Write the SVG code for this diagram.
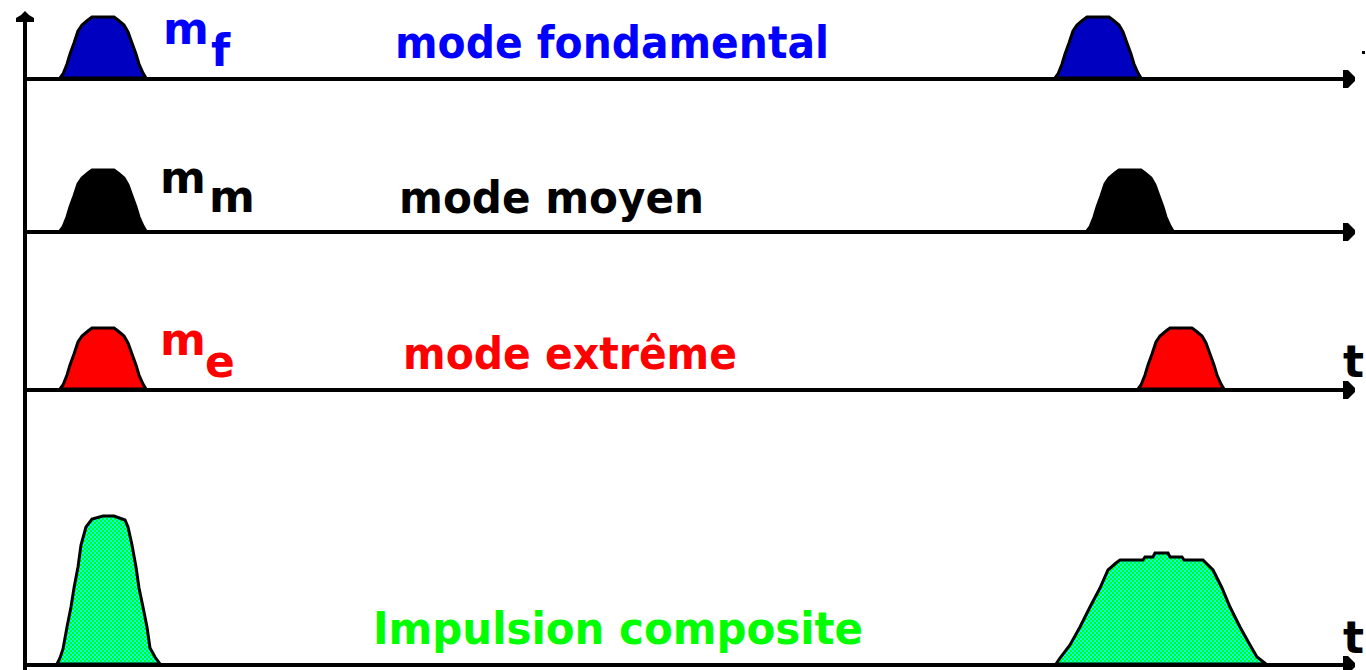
<svg xmlns="http://www.w3.org/2000/svg" width="1366" height="670" viewBox="0 0 1366 670">
<style>
.ax{stroke:#000;stroke-width:4;fill:none}
.ah{fill:#000}
.pl{stroke:#000;stroke-width:3;stroke-linejoin:miter}
.lbl{font-family:"DejaVu Sans","Liberation Sans",sans-serif;font-weight:bold;font-size:44px}
.b{fill:#0000ff}.k{fill:#000}.r{fill:#ff0000}.g{fill:#00ff00}
</style>
<defs>
<path id="pulse" d="M-1,0 L2,-4 L6,-14 L9,-24 L13,-35 L17,-47 L21,-53 L27,-58 L31,-61 L53,-61 L57,-58 L63,-53 L67,-46 L71,-35 L75,-24 L78,-14 L82,-5 L85,0 Z"/>
<pattern id="chk" width="4" height="4" patternUnits="userSpaceOnUse">
<rect width="4" height="4" fill="#00ffff"/>
<rect width="2" height="2" fill="#00ff00"/>
<rect x="2" y="2" width="2" height="2" fill="#00ff00"/>
</pattern>
<path id="arr" d="M-12,-9 L-7,-9 L0,-2 L0,2 L-7,9 L-12,9 Z"/>
</defs>
<rect width="1366" height="670" fill="#fff"/>

<g id="connectors">
<line class="ax" x1="25" y1="14" x2="25" y2="670"/>
<path class="ah" d="M25,11 L29,15 L34,18 L34,22 L16,22 L16,18 L21,15 Z"/>
<line class="ax" x1="25" y1="79" x2="1346" y2="79"/>
<use href="#arr" class="ah" x="1355" y="79"/>
<line class="ax" x1="25" y1="232" x2="1346" y2="232"/>
<use href="#arr" class="ah" x="1355" y="232"/>
<line class="ax" x1="25" y1="390" x2="1346" y2="390"/>
<use href="#arr" class="ah" x="1355" y="390"/>
<line class="ax" x1="25" y1="665" x2="1346" y2="665"/>
<use href="#arr" class="ah" x="1355" y="665"/>
<rect x="1362" y="51" width="3" height="3" fill="#000"/>
<text class="lbl k" x="1343" y="377">t</text>
<text class="lbl k" x="1343" y="653">t</text>
</g>

<g id="pulse-f1"><use href="#pulse" class="pl" fill="#0000c0" transform="translate(61,78)"/></g>
<g id="pulse-f2"><use href="#pulse" class="pl" fill="#0000c0" transform="translate(1056,78)"/></g>
<g id="pulse-m1"><use href="#pulse" class="pl" fill="#000" transform="translate(61,231)"/></g>
<g id="pulse-m2"><use href="#pulse" class="pl" fill="#000" transform="translate(1088,231)"/></g>
<g id="pulse-e1"><use href="#pulse" class="pl" fill="#ff0000" transform="translate(61,389)"/></g>
<g id="pulse-e2"><use href="#pulse" class="pl" fill="#ff0000" transform="translate(1139,389)"/></g>

<g id="pulse-c1">
<path class="pl" fill="url(#chk)" d="M57,664 L60,658 L63,649 L67,627 L71,607 L74,588 L78,567 L81,545 L86,527 L92,519 L103,516 L114,516 L125,520 L128,527 L132,545 L136,567 L139,588 L143,607 L147,627 L150,648 L155,657 L160,664 Z"/>
</g>
<g id="pulse-c2">
<path class="pl" fill="url(#chk)" d="M1056,664 L1060,658 L1070,645 L1080,627 L1090,607 L1100,588 L1108,570 L1116,563 L1120,560 L1143,560 L1145,557 L1153,557 L1155,553 L1168,553 L1170,557 L1182,557 L1184,560 L1203,560 L1207,564 L1213,570 L1222,588 L1230,607 L1240,627 L1250,645 L1257,657 L1266,664 Z"/>
</g>

<g id="label-f">
<text class="lbl b" x="163" y="44">m</text>
<text class="lbl b" x="211" y="66">f</text>
<text class="lbl b" x="395" y="58" textLength="434" lengthAdjust="spacingAndGlyphs">mode fondamental</text>
</g>
<g id="label-m">
<text class="lbl k" x="160" y="193">m</text>
<text class="lbl k" x="209" y="212">m</text>
<text class="lbl k" x="399" y="213" textLength="305" lengthAdjust="spacingAndGlyphs">mode moyen</text>
</g>
<g id="label-e">
<text class="lbl r" x="160" y="355">m</text>
<text class="lbl r" x="205" y="377">e</text>
<text class="lbl r" x="403" y="369" textLength="334" lengthAdjust="spacingAndGlyphs">mode extrême</text>
</g>
<g id="label-c">
<text class="lbl g" x="373" y="644" textLength="490" lengthAdjust="spacingAndGlyphs">Impulsion composite</text>
</g>
</svg>
